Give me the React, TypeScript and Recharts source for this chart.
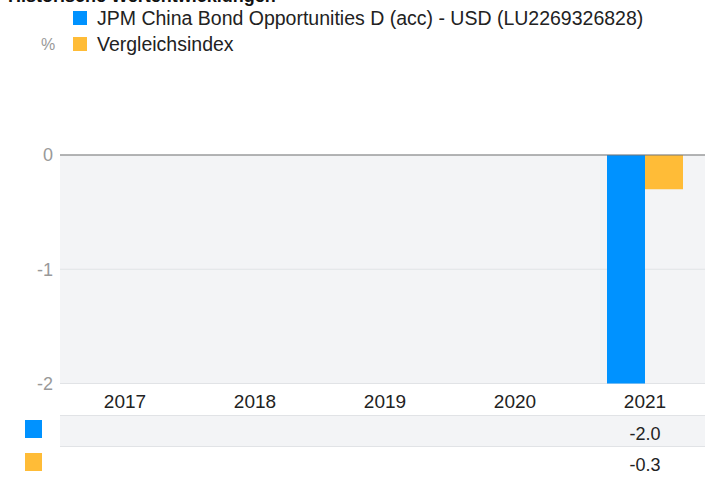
import React from 'react';
import { BarChart, Bar, XAxis, YAxis, CartesianGrid, ReferenceLine } from 'recharts';

const years = ['2017', '2018', '2019', '2020', '2021'];
const fundValues: (number | null)[] = [null, null, null, null, -2.0];
const indexValues: (number | null)[] = [null, null, null, null, -0.3];
const yTicks = [-2, -1, 0];

const fundName = 'JPM China Bond Opportunities D (acc) - USD (LU2269326828)';
const indexName = 'Vergleichsindex';
const title = 'Historische Wertentwicklungen';

const BLUE = '#0092ff';
const ORANGE = '#ffbc37';
const FONT = '"Liberation Sans", Arial, sans-serif';

const data = years.map((year, i) => ({
  year,
  fund: fundValues[i],
  index: indexValues[i],
}));

const fmt = (v: number | null) => (v == null ? '' : v.toFixed(1));

function YearTick(props: any) {
  const { x, y, payload, index } = props;
  return (
    <g>
      <text x={x} y={y + 24} textAnchor="middle" fill="#222" fontSize={19} fontFamily={FONT}>
        {payload.value}
      </text>
      <text x={x} y={y + 56} textAnchor="middle" fill="#222" fontSize={18} fontFamily={FONT}>
        {fmt(fundValues[index])}
      </text>
      <text x={x} y={y + 87} textAnchor="middle" fill="#222" fontSize={18} fontFamily={FONT}>
        {fmt(indexValues[index])}
      </text>
    </g>
  );
}

function LegendRow({ color, label }: { color: string; label: string }) {
  return (
    <div style={{ display: 'flex', alignItems: 'center', height: 26 }}>
      <div style={{ width: 14, height: 14, background: color, marginRight: 10 }} />
      <span style={{ fontSize: 19.5, color: '#222', whiteSpace: 'nowrap' }}>{label}</span>
    </div>
  );
}

export default function App() {
  return (
    <div
      style={{
        position: 'absolute',
        left: 0,
        top: 0,
        width: 705,
        height: 477,
        overflow: 'hidden',
        background: '#fff',
        fontFamily: FONT,
      }}
    >
      {/* table row background */}
      <div
        style={{
          position: 'absolute',
          left: 60,
          top: 415,
          width: 650,
          height: 32,
          background: '#f3f4f6',
          borderTop: '1px solid #e1e3e6',
          borderBottom: '1px solid #e1e3e6',
          boxSizing: 'border-box',
        }}
      />
      <div style={{ position: 'absolute', left: 25, top: 420, width: 17, height: 18, background: BLUE }} />
      <div style={{ position: 'absolute', left: 25, top: 453, width: 17, height: 18, background: ORANGE }} />

      <div style={{ position: 'absolute', left: 0, top: 0 }}>
        <BarChart
          width={710}
          height={477}
          data={data}
          margin={{ top: 155, right: 0, bottom: 0, left: 0 }}
          barGap={0}
          barSize={38}
        >
          <CartesianGrid vertical={false} fill="#f3f4f6" stroke="#e1e3e6" />
          <XAxis
            dataKey="year"
            height={93.5}
            axisLine={false}
            tickLine={false}
            tickSize={0}
            tickMargin={0}
            interval={0}
            tick={<YearTick />}
          />
          <YAxis
            width={60}
            domain={[-2, 0]}
            ticks={yTicks}
            axisLine={false}
            tickLine={false}
            tickSize={0}
            tickMargin={7}
            tick={{ fill: '#999', fontSize: 18, fontFamily: FONT }}
          />
          <Bar dataKey="fund" fill={BLUE} isAnimationActive={false} />
          <Bar dataKey="index" fill={ORANGE} isAnimationActive={false} />
          <ReferenceLine y={0} stroke="#777" strokeWidth={1} />
        </BarChart>
      </div>

      {/* title, cut off at the top as in the original */}
      <div
        style={{
          position: 'absolute',
          left: 8,
          top: -13,
          fontSize: 18,
          lineHeight: '18px',
          fontWeight: 'bold',
          color: '#111',
          whiteSpace: 'nowrap',
        }}
      >
        {title}
      </div>

      <div style={{ position: 'absolute', left: 73, top: 5 }}>
        <LegendRow color={BLUE} label={fundName} />
        <LegendRow color={ORANGE} label={indexName} />
      </div>
      <div style={{ position: 'absolute', left: 41, top: 36, fontSize: 16, color: '#999' }}>%</div>
    </div>
  );
}
